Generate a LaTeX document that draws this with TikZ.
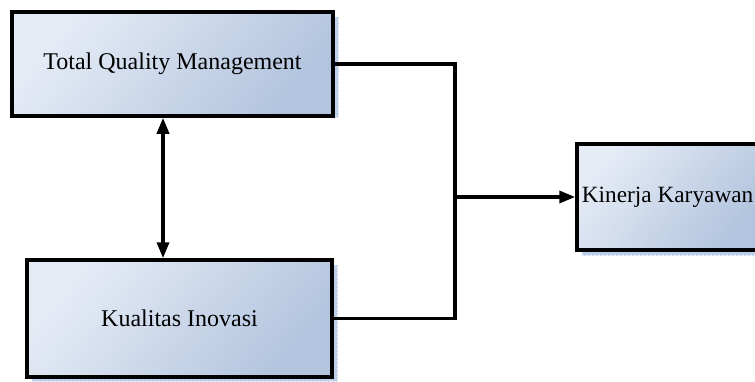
\documentclass[tikz,border=0pt]{standalone}
\usepackage{fontspec}
\setmainfont{Liberation Serif}
\usepackage{xcolor}
\usepackage{tikz}
\usetikzlibrary{arrows.meta, positioning, calc}
\definecolor{BoxLight}{RGB}{230, 236, 246}
\definecolor{BoxDark}{RGB}{178, 196, 222}
\definecolor{ShadowBlue}{RGB}{190, 207, 234}

\tikzset{
  varbox/.style={draw=black, line width=3.5pt, minimum height=#1,
    shading=axis, left color=BoxLight, right color=BoxDark, shading angle=50,
    font=\fontsize{24}{28}\selectfont, inner sep=0pt},
  boxshadow/.style={fill=ShadowBlue, draw=ShadowBlue!80, line width=0.6pt, densely dotted},
  link/.style={draw=black, line width=3.5pt},
  linkshadow/.style={draw=ShadowBlue, line width=2.6pt, densely dashed},
}

\begin{document}
\begin{tikzpicture}[x=1pt,y=1pt, >={Triangle[length=16pt, width=12pt]}]
  \path[use as bounding box] (0,0) rectangle (755,381);
  \clip (0,0) rectangle (755,381);
  \fill[white] (0,0) rectangle (755,381);

  % shadows
  \fill[boxshadow] (17,264) rectangle (338,364);
  \fill[boxshadow] (32,0) rectangle (337,116);
  \fill[boxshadow] (582,126) rectangle (770,232);

  % variables
  \node[varbox=104pt, minimum width=321pt] (tqm) at (172.5,317) {Total Quality Management};
  \node[varbox=117pt, minimum width=305pt] (ki) at (179.5,62.5) {Kualitas Inovasi};
  \node[varbox=106pt, minimum width=183pt] (kk) at (668.5,184) {};
  \node[font=\fontsize{23.3}{28}\selectfont, inner sep=0pt, anchor=east]
    (kktext) at ([xshift=-1.5pt]kk.center -| 755,0) {Kinerja Karyawan};

  \coordinate (junc) at (455,184);
  \coordinate (arr) at (163,0);

  % connector shadows
  \begin{scope}[xshift=5pt, yshift=-4pt]
    \draw[linkshadow] (tqm.east) -- (tqm.east -| junc) -- (ki.east -| junc) -- (ki.east);
    \draw[linkshadow] (junc) -- ([xshift=-16pt]kk.west);
    \draw[linkshadow] ([yshift=-4pt]tqm.south -| arr) -- ([yshift=4pt]ki.north -| arr);
  \end{scope}

  % connectors
  \draw[link] (tqm.east) -- (tqm.east -| junc) -- (ki.east -| junc) -- (ki.east);
  \draw[link, ->] (junc) -- (kk.west);
  \draw[link, <->] (tqm.south -| arr) -- (ki.north -| arr);
\end{tikzpicture}
\end{document}
